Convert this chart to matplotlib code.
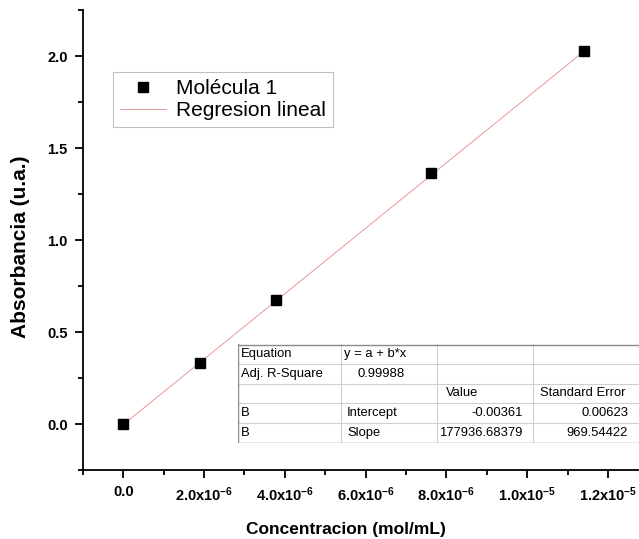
import matplotlib
matplotlib.use("Agg")
import matplotlib.pyplot as plt
import numpy as np

# ---- data ----
conc = [0.0, 1.9e-6, 3.78e-6, 7.61e-6, 1.141e-5]
absorb = [0.0, 0.331, 0.675, 1.365, 2.025]
intercept = -0.00361
slope = 177936.68379
x_major = [0.0, 2e-6, 4e-6, 6e-6, 8e-6, 1e-5, 1.2e-5]
y_major = [0.0, 0.5, 1.0, 1.5, 2.0]
table_rows = [
    ["Equation", "y = a + b*x", "", ""],
    ["Adj. R-Square", "0.99988", "", ""],
    ["", "", "Value", "Standard Error"],
    ["B", "Intercept", "-0.00361", "0.00623"],
    ["B", "Slope", "177936.68379", "969.54422"],
]

plt.rcParams['font.family'] = ['Liberation Sans', 'DejaVu Sans']
plt.rcParams['mathtext.fontset'] = 'custom'
plt.rcParams['mathtext.rm'] = 'Liberation Sans'
plt.rcParams['mathtext.bf'] = 'Liberation Sans:bold'
plt.rcParams['mathtext.it'] = 'Liberation Sans:italic'

W, H = 639, 539
fig = plt.figure(figsize=(W / 100, H / 100), dpi=100)

def px_rect(x0, y0, x1, y1):
    return [x0 / W, (H - y1) / H, (x1 - x0) / W, (y1 - y0) / H]

ax = fig.add_axes(px_rect(82.8, 10, 639, 470))
ax.set_xlim(-1e-6, 1.2765e-5)
ax.set_ylim(-0.25, 2.25)

ax.plot(conc, absorb, 's', color='black', ms=7, label='Molécula 1', zorder=3)
xfit = np.array([conc[0], conc[-1]])
ax.plot(xfit, intercept + slope * xfit, '-', color='#e58a8a', lw=0.6,
        label='Regresion lineal', zorder=2)

for s in ['top', 'right']:
    ax.spines[s].set_visible(False)
for s in ['left', 'bottom']:
    ax.spines[s].set_linewidth(1.3)

def fmt_x(v):
    if v == 0:
        return "0.0"
    e = int(np.floor(np.log10(abs(v)) + 1e-9))
    m = v / 10 ** e
    return r"$\mathbf{%.1fx10^{%d}}$" % (m, e)

ax.set_xticks(x_major, [fmt_x(v) for v in x_major])
ax.set_xticks(np.arange(-1e-6, 1.28e-5, 2e-6), minor=True)
ax.set_yticks(y_major, ["%.1f" % v for v in y_major])
ax.set_yticks(np.arange(-0.25, 2.26, 0.5), minor=True)
ax.tick_params(which='major', direction='out', length=6, width=1.3,
               labelsize=10.5, pad=5)
ax.tick_params(which='minor', direction='out', length=3.5, width=1.3)
for lab in ax.get_yticklabels() + ax.get_xticklabels():
    lab.set_fontweight('bold')

ax.set_xlabel("Concentracion (mol/mL)", fontsize=12.5, fontweight='bold')
ax.set_ylabel("Absorbancia (u.a.)", fontsize=15, fontweight='bold')
ax.xaxis.set_label_coords((346 - 82.8) / (639 - 82.8), -(522 - 470) / 460)
ax.yaxis.set_label_coords(-(82.8 - 30) / (639 - 82.8), (470 - 247) / 460)

leg = ax.legend(loc='upper left',
                bbox_to_anchor=((113 - 82.8) / 556.2, (470 - 72) / 460),
                fontsize=15, frameon=True, fancybox=False, handlelength=2.2,
                handletextpad=0.5, borderpad=0.33, labelspacing=0.15,
                borderaxespad=0)
leg.get_frame().set_edgecolor('#b0b0b0')
leg.get_frame().set_linewidth(0.8)

# ---- fit table ----
tx0, ty0, tx1, ty1 = 237.7, 344, 639, 443
tax = fig.add_axes(px_rect(tx0, ty0, tx1, ty1))
tax.set_xlim(tx0, tx1)
tax.set_ylim(ty1, ty0)
tax.set_facecolor('white')
tax.set_xticks([])
tax.set_yticks([])
for s in tax.spines.values():
    s.set_visible(False)
col_edges = [tx0, 340.5, 437, 532.5, 645]
row_edges = list(np.linspace(ty0, ty1, 6))
for yy in row_edges[1:-1]:
    tax.plot([tx0, tx1], [yy, yy], color='#cfcfcf', lw=0.8)
for xx in col_edges[1:-1]:
    tax.plot([xx, xx], [ty0, ty1], color='#cfcfcf', lw=0.8)
tax.plot([tx0, tx1], [ty0 + 0.5, ty0 + 0.5], color='#8a8a8a', lw=1.0)
tax.plot([tx0, tx1], [ty1 - 0.5, ty1 - 0.5], color='#8a8a8a', lw=1.0)
tax.plot([tx0 + 0.5, tx0 + 0.5], [ty0, ty1], color='#8a8a8a', lw=1.0)

tfs = 9.4
for r, row in enumerate(table_rows):
    yc = (row_edges[r] + row_edges[r + 1]) / 2
    for c, txt in enumerate(row):
        if not txt:
            continue
        if c == 0:
            tax.text(241, yc, txt, ha='left', va='center', fontsize=tfs)
        elif c == 1:
            if r == 1:
                tax.text(381, yc, txt, ha='center', va='center', fontsize=tfs)
            else:
                tax.text(344 if r == 0 else 347, yc, txt, ha='left', va='center', fontsize=tfs)
        elif c == 2:
            if r == 2:
                tax.text(462, yc, txt, ha='center', va='center', fontsize=tfs)
            else:
                tax.text(522.5, yc, txt, ha='right', va='center', fontsize=tfs)
        else:
            if r == 2:
                tax.text(583, yc, txt, ha='center', va='center', fontsize=tfs)
            else:
                tax.text(628, yc, txt, ha='right', va='center', fontsize=tfs)

fig.savefig("out.png", dpi=100)
